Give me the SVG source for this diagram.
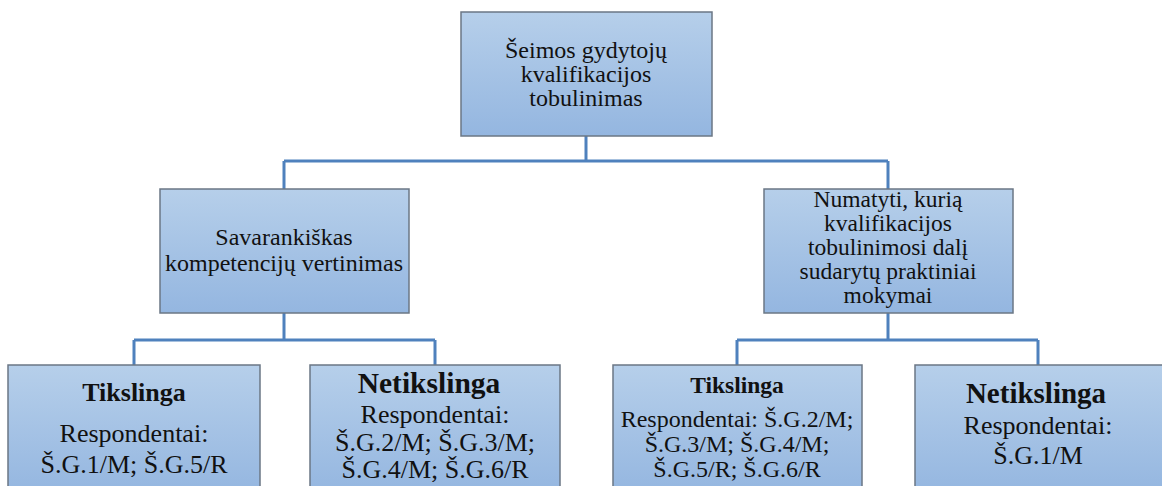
<svg xmlns="http://www.w3.org/2000/svg" width="1162" height="486" viewBox="0 0 1162 486">
  <style>
    .box { fill: url(#boxFill); stroke: #6b7785; stroke-width: 1.5; }
    .link { fill: none; stroke: #4f81bd; stroke-width: 3; }
    text { font-family: "Liberation Serif", "Times New Roman", serif; fill: #111; text-anchor: middle; }
    .b { font-weight: bold; }
  </style>
  <defs>
    <linearGradient id="boxFill" x1="0" y1="0" x2="0" y2="1">
      <stop offset="0" stop-color="#b6cfea"/>
      <stop offset="1" stop-color="#94b6e0"/>
    </linearGradient>
  </defs>
  <rect width="1162" height="486" fill="#ffffff"/>

  <!-- elbow connectors between levels -->
  <g id="connectors">
    <path class="link" d="M586 136 V161 M284 161 H888 M284 161 V189 M888 161 V189"/>
    <path class="link" d="M284 313 V340 M134 340 H435 M134 340 V365 M435 340 V365"/>
    <path class="link" d="M888 313 V340 M737 340 H1038 M737 340 V365 M1038 340 V365"/>
  </g>

  <g id="root">
    <rect class="box" x="461" y="12" width="251" height="124"/>
    <text font-size="24"><tspan x="586" y="58">Šeimos gydytojų</tspan><tspan x="586" y="82">kvalifikacijos</tspan><tspan x="586" y="106">tobulinimas</tspan></text>
  </g>

  <g id="self-assessment">
    <rect class="box" x="160" y="189" width="249" height="124"/>
    <text font-size="24"><tspan x="284" y="245">Savarankiškas</tspan><tspan x="284" y="271">kompetencijų  vertinimas</tspan></text>
  </g>

  <g id="practical-training">
    <rect class="box" x="764" y="189" width="249" height="124"/>
    <text font-size="23.5"><tspan x="888" y="207">Numatyti,  kurią</tspan><tspan x="888" y="231">kvalifikacijos</tspan><tspan x="888" y="255">tobulinimosi  dalį</tspan><tspan x="888" y="279">sudarytų praktiniai</tspan><tspan x="888" y="303">mokymai</tspan></text>
  </g>

  <g id="self-useful">
    <rect class="box" x="8" y="365" width="252" height="130"/>
    <text class="b" font-size="26" x="134" y="401">Tikslinga</text>
    <text font-size="26"><tspan x="134" y="442">Respondentai:</tspan><tspan x="134" y="473">Š.G.1/M; Š.G.5/R</tspan></text>
  </g>

  <g id="self-not-useful">
    <rect class="box" x="310" y="365" width="250" height="130"/>
    <text class="b" font-size="29.5" x="429" y="393">Netikslinga</text>
    <text font-size="26"><tspan x="435" y="423">Respondentai:</tspan><tspan x="435" y="451">Š.G.2/M;  Š.G.3/M;</tspan><tspan x="435" y="478">Š.G.4/M; Š.G.6/R</tspan></text>
  </g>

  <g id="training-useful">
    <rect class="box" x="613" y="365" width="249" height="130"/>
    <text class="b" font-size="23.5" x="737" y="393">Tikslinga</text>
    <text font-size="24"><tspan x="737" y="427">Respondentai: Š.G.2/M;</tspan><tspan x="737" y="452">Š.G.3/M; Š.G.4/M;</tspan><tspan x="737" y="477">Š.G.5/R; Š.G.6/R</tspan></text>
  </g>

  <g id="training-not-useful">
    <rect class="box" x="915" y="365" width="252" height="130"/>
    <text class="b" font-size="29" x="1036" y="403">Netikslinga</text>
    <text font-size="26"><tspan x="1038" y="434">Respondentai:</tspan><tspan x="1038" y="464">Š.G.1/M</tspan></text>
  </g>
</svg>
